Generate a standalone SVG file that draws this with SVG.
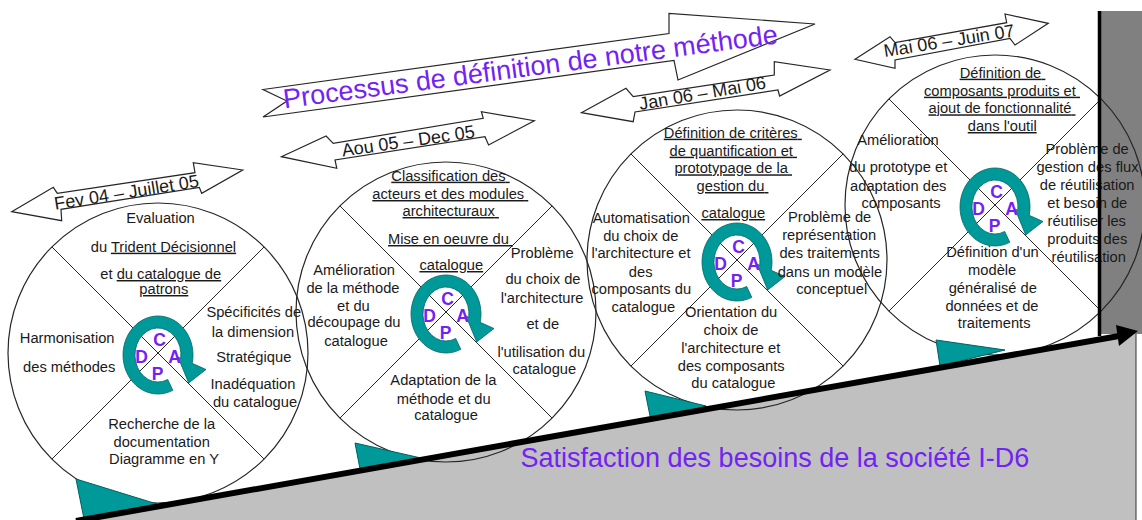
<svg xmlns="http://www.w3.org/2000/svg" width="1142" height="520" viewBox="0 0 1142 520">
<style>
text{font-family:"Liberation Sans",Arial,Helvetica,sans-serif}
.t{font-size:14.7px;fill:#1a1a1a;text-anchor:middle}
.u{text-decoration:underline}
.dt{font-size:18px;fill:#1a1a1a;text-anchor:middle}
.pl{font-size:17.5px;font-weight:bold;fill:#7322f5;text-anchor:middle}
.big{font-size:27px;fill:#7322f5}
.circ{fill:none;stroke:#262626;stroke-width:1.2}
.xl{stroke:#262626;stroke-width:1}
.ring{fill:#009999;stroke:#006666;stroke-width:0.8}
.dbl{fill:#fff;stroke:#262626;stroke-width:1.2;stroke-linejoin:miter}
.wedge{fill:#009999;stroke:#006060;stroke-width:1}
</style>
<defs>
<g id="wheel">
<circle r="150" class="circ"/>
<line x1="-106" y1="-106" x2="106" y2="106" class="xl"/>
<line x1="106" y1="-106" x2="-106" y2="106" class="xl"/>
<path class="ring" transform="translate(0,2)" d="M14.79 35.35 A35 39 0 1 1 34.2 8.34 L48 14.5 L30.7 28 L20 2 L22.8 3.25 A23 27 0 1 0 9.72 24.47 Z"/>
<text class="pl" x="1.5" y="-7.5">C</text>
<text class="pl" x="-16.5" y="9.5">D</text>
<text class="pl" x="16.5" y="9.5">A</text>
<text class="pl" x="-0.5" y="26.5">P</text>
</g>
</defs>

<g id="background">
<polygon points="78,520 1136,331 1136,520" fill="#c0c0c0"/>
<line x1="1136" y1="332" x2="1136" y2="520" stroke="#333" stroke-width="1"/>
<rect x="1100" y="11" width="42" height="323" fill="#808080"/>
</g>

<g id="title">
<polygon class="dbl" points="263,89.5 669,33.5 669,13.3 815,24 678,80 674,60.5 263,117 287,101"/>
<text class="big" text-anchor="middle" transform="translate(531.5,75.8) rotate(-7.5)">Processus de définition de notre méthode</text>
</g>

<g id="d1">
<polygon class="dbl" points="11.7,211.7 53.3,187.3 57.3,193.3 195,172.7 193.3,162.7 242.7,170 201.7,193.3 199.3,187.3 61,209.3 61.7,220.7"/>
<text class="dt" transform="translate(127.5,198.3) rotate(-9.1)">Fev 04 – Juillet 05</text>
</g>
<g id="d2">
<polygon class="dbl" points="281.4,156.7 326.1,136 333.2,143.3 483.2,118.3 481.4,111.7 534.3,120.7 488.6,145 485,136.7 335,160 336.8,168.3"/>
<text class="dt" transform="translate(409,147) rotate(-8.2)">Aou 05 – Dec 05</text>
</g>
<g id="d3">
<polygon class="dbl" points="581.4,112.7 626,88.3 633.2,96.7 774.3,75 774.3,61.7 830,70 779.6,96 778,90 635,112 633.2,121.7"/>
<text class="dt" transform="translate(703.5,99.2) rotate(-9.7)">Jan 06 – Mai 06</text>
</g>
<g id="d4">
<polygon class="dbl" points="855,59.3 890,36.7 895,42.7 1006.7,22.7 1005,14 1048.3,23.3 1015,45 1010,38.3 895,60 895,68.3"/>
<text class="dt" transform="translate(950,46.7) rotate(-9)">Mai 06 – Juin 07</text>
</g>

<g id="c1">
<use href="#wheel" transform="translate(158,353)"/>
<text class="t">
<tspan x="162.5" y="223.3">Evaluation</tspan>
<tspan x="165.5" y="251.7">du <tspan class="u">Trident Décisionnel</tspan></tspan>
<tspan x="162.8" y="279">et <tspan class="u">du catalogue de</tspan></tspan>
<tspan x="163.8" y="294" class="u">patrons</tspan>
</text>
<text class="t">
<tspan x="255.8" y="317">Spécificités de</tspan>
<tspan x="255" y="336.5">la dimension</tspan>
<tspan x="255.8" y="361.7">Stratégique</tspan>
<tspan x="255" y="389.3">Inadéquation</tspan>
<tspan x="255" y="407.3">du catalogue</tspan>
</text>
<text class="t">
<tspan x="69.2" y="343.3">Harmonisation</tspan>
<tspan x="69.2" y="371.5">des méthodes</tspan>
</text>
<text class="t">
<tspan x="163.8" y="429.3">Recherche de la</tspan>
<tspan x="163.7" y="447.3">documentation</tspan>
<tspan x="164" y="464">Diagramme en Y</tspan>
</text>
</g>

<g id="c2">
<use href="#wheel" transform="translate(446,312)"/>
<text class="t u">
<tspan x="450.5" y="180.7">Classification des</tspan>
<tspan x="450.3" y="199">acteurs et des modules</tspan>
<tspan x="450.7" y="216">architecturaux</tspan>
<tspan x="450.5" y="244">Mise en oeuvre du</tspan>
<tspan x="451.3" y="270">catalogue</tspan>
</text>
<text class="t">
<tspan x="356.2" y="275.3">Amélioration</tspan>
<tspan x="355" y="292.7">de la méthode</tspan>
<tspan x="355.5" y="311">et du</tspan>
<tspan x="356" y="327.3">découpage du</tspan>
<tspan x="356" y="346">catalogue</tspan>
</text>
<text class="t">
<tspan x="544.3" y="257.7">Problème</tspan>
<tspan x="545" y="284.3">du choix de</tspan>
<tspan x="544.2" y="302.7">l'architecture</tspan>
<tspan x="544.8" y="329.3">et de</tspan>
<tspan x="543.3" y="356.7">l'utilisation du</tspan>
<tspan x="544.3" y="374">catalogue</tspan>
</text>
<text class="t">
<tspan x="445.5" y="385">Adaptation de la</tspan>
<tspan x="445.8" y="404">méthode et du</tspan>
<tspan x="446" y="420">catalogue</tspan>
</text>
</g>

<g id="c3">
<use href="#wheel" transform="translate(737,260)"/>
<text class="t u">
<tspan x="732.8" y="137.7">Définition de critères</tspan>
<tspan x="733.3" y="155.7">de quantification  et</tspan>
<tspan x="733.2" y="173.3">prototypage de la</tspan>
<tspan x="732.5" y="191">gestion du</tspan>
<tspan x="733.3" y="218">catalogue</tspan>
</text>
<text class="t">
<tspan x="643.3" y="222.7">Automatisation</tspan>
<tspan x="642.8" y="240.7">du choix de</tspan>
<tspan x="643" y="258.3">l'architecture et</tspan>
<tspan x="642.7" y="276.7">des</tspan>
<tspan x="643.3" y="294.3">composants du</tspan>
<tspan x="643.3" y="311.7">catalogue</tspan>
</text>
<text class="t">
<tspan x="831.7" y="221.7">Problème de</tspan>
<tspan x="831.2" y="240">représentation</tspan>
<tspan x="831.7" y="257.7">des traitements</tspan>
<tspan x="832" y="276.7">dans un modèle</tspan>
<tspan x="831.7" y="294.3">conceptuel</tspan>
</text>
<text class="t">
<tspan x="733.2" y="316.7">Orientation du</tspan>
<tspan x="733" y="335">choix de</tspan>
<tspan x="732.8" y="352.7">l'architecture et</tspan>
<tspan x="733.3" y="370.7">des composants</tspan>
<tspan x="733.3" y="388.3">du catalogue</tspan>
</text>
</g>

<g id="c4">
<use href="#wheel" transform="translate(995,205)"/>
<text class="t u">
<tspan x="1002.5" y="77.7">Définition de</tspan>
<tspan x="1002" y="95.7">composants produits et</tspan>
<tspan x="1002" y="113.3">ajout de fonctionnalité</tspan>
<tspan x="1002.2" y="131">dans l'outil</tspan>
</text>
<text class="t">
<tspan x="900" y="145">Amélioration</tspan>
<tspan x="900.3" y="172.3">du prototype et</tspan>
<tspan x="900.3" y="190.7">adaptation des</tspan>
<tspan x="901" y="208.3">composants</tspan>
</text>
<text class="t">
<tspan x="1089.2" y="154">Problème de</tspan>
<tspan x="1089.5" y="172.3">gestion des flux</tspan>
<tspan x="1089.2" y="190">de réutilisation</tspan>
<tspan x="1089.3" y="207.7">et besoin de</tspan>
<tspan x="1088.8" y="226">réutiliser les</tspan>
<tspan x="1089.3" y="244.3">produits des</tspan>
<tspan x="1088.7" y="262.3">réutilisation</tspan>
</text>
<text class="t">
<tspan x="994.5" y="256.7">Définition d'un</tspan>
<tspan x="994.2" y="275">modèle</tspan>
<tspan x="994.8" y="293.3">généralisé de</tspan>
<tspan x="994" y="311">données et de</tspan>
<tspan x="994.2" y="328.3">traitements</tspan>
</text>
</g>

<g id="connectors">
<polygon class="wedge" points="76,479 157,504 84,519"/>
<polygon class="wedge" points="355,443 421,458 360,469"/>
<polygon class="wedge" points="645,391 706,406 651,421"/>
<polygon class="wedge" points="936,340 1005,350 940,366"/>
<line x1="76" y1="521" x2="1119" y2="336" stroke="#000" stroke-width="6"/>
<polygon points="1116,325 1138,331 1119,346" fill="#000"/>
<line x1="1099.5" y1="11" x2="1099.5" y2="336" stroke="#000" stroke-width="3.5"/>
</g>

<g id="satisfaction">
<text class="big" x="520.5" y="466.7">Satisfaction des besoins de la société I-D6</text>
</g>
</svg>
